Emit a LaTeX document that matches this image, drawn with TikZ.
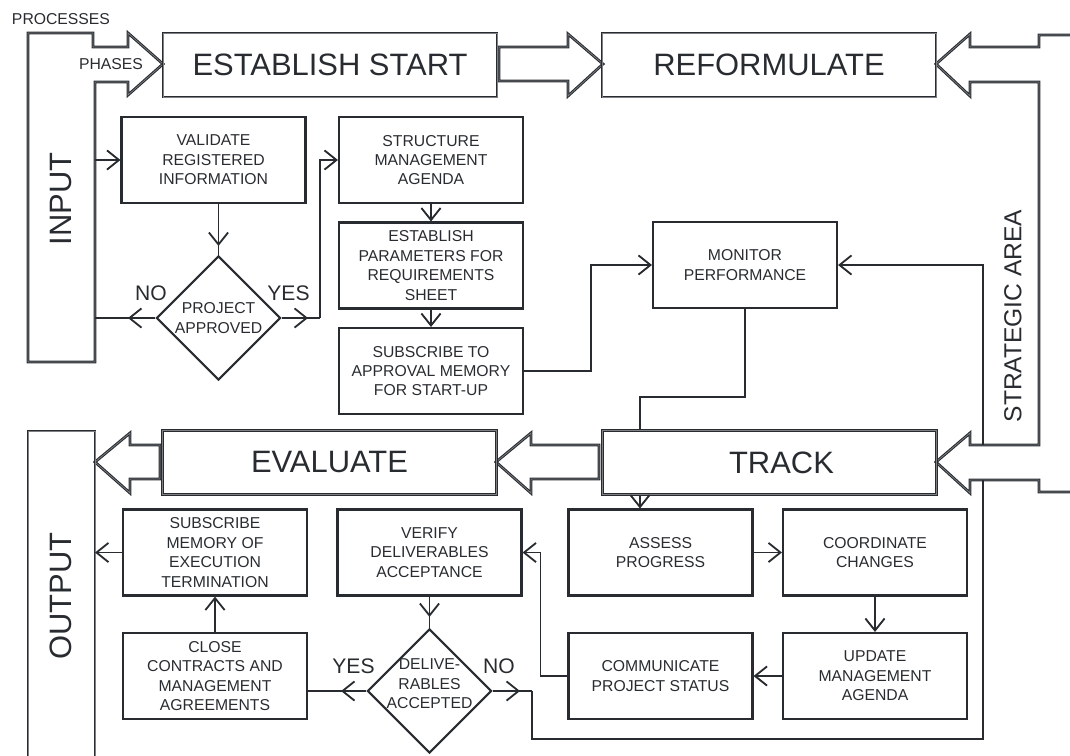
\documentclass[tikz,border=0pt]{standalone}
\usepackage{fontspec}
\setmainfont{Liberation Sans}
\usetikzlibrary{shapes.geometric,arrows.meta}
\definecolor{ink}{RGB}{40,44,48}
\newcommand{\boxfont}{\fontsize{11.2pt}{13.8pt}\selectfont}
\newcommand{\phasefont}{\fontsize{22pt}{26pt}\selectfont}
\newcommand{\answerfont}{\fontsize{15pt}{18pt}\selectfont}
\newcommand{\areafont}{\fontsize{17.5pt}{21pt}\selectfont}
\tikzset{
  >={Straight Barb[length=3mm,width=4.8mm,line width=1.3pt]},
  task/.style={draw=ink, line width=1.5pt, minimum width=46mm, minimum height=21.5mm,
    inner sep=0pt, align=center, text=ink, font=\boxfont},
  decision/.style={diamond, draw=ink, line width=1.5pt, minimum width=31mm,
    minimum height=31mm, inner sep=0pt},
  dtext/.style={align=center, text=ink, font=\boxfont, inner sep=0pt},
  phase/.style={draw=ink, line width=0.75pt, double=ink!60, double distance=0.5pt,
    minimum width=83.5mm, minimum height=16mm, inner sep=0pt, text=ink, font=\phasefont},
  frame/.style={draw=ink, line width=0.75pt, double=ink!60, double distance=0.5pt},
  conn/.style={draw=ink, line width=1.3pt},
  midtip/.style={postaction={draw=ink, ->, shorten >=#1}},
  tag/.style={text=ink, inner sep=0pt},
}

\begin{document}
\begin{tikzpicture}[x=0.25mm, y=-0.25mm]
\useasboundingbox (0,0) rectangle (1070,755);

\draw[frame] (28,33) -- (93,33) -- (93,47) -- (128,47) -- (128,33) -- (163,64)
    -- (128,95) -- (128,82) -- (95,82) -- (95,362) -- (28,362) -- cycle;
\draw[frame] (1070,35) -- (1039,35) -- (1039,47) -- (970,47) -- (970,34) -- (936,64)
    -- (970,96) -- (970,82) -- (1039,82) -- (1039,445) -- (970,445) -- (970,433)
    -- (936,462) -- (970,493) -- (970,480) -- (1039,480) -- (1039,492) -- (1070,492);
\draw[frame] (499,47) -- (568,47) -- (568,34) -- (603,64) -- (568,96) -- (568,81)
    -- (499,81) -- cycle;
\draw[frame] (599,445) -- (531,445) -- (531,433) -- (496,462) -- (531,493) -- (531,479)
    -- (599,479) -- cycle;
\draw[frame] (160,445) -- (130,445) -- (130,433) -- (95,462) -- (130,493) -- (130,479)
    -- (160,479) -- cycle;
\draw[frame] (28,760) -- (28,431) -- (95,431) -- (95,760);

\node[tag, font=\boxfont] (proc) at (61,19.5) {PROCESSES};
\node[tag, font=\boxfont] (phs) at (111,64.5) {PHASES};
\node[tag, font=\phasefont, rotate=90] (inp) at (61,199) {INPUT};
\node[tag, font=\phasefont, rotate=90] (outp) at (61,596) {OUTPUT};
\node[tag, font=\areafont, rotate=90] (strat) at (1013,316) {STRATEGIC AREA};

\node[phase] (start) at (330,65) {ESTABLISH START};
\node[phase] (reform) at (769,65) {REFORMULATE};
\node[phase] (eval) at (329.5,462.5) {EVALUATE};
\node[phase] (track) at (769.5,462.5) {};
\node[tag, font=\phasefont] (tracklbl) at (781.5,462.5) {TRACK};

\node[task] (val) at (213.5,160) {VALIDATE\\REGISTERED\\INFORMATION};
\node[task] (struc) at (431,160) {STRUCTURE\\MANAGEMENT\\AGENDA};
\node[task] (param) at (431,265.5) {ESTABLISH\\PARAMETERS FOR\\REQUIREMENTS\\SHEET};
\node[task] (subapp) at (431,371) {SUBSCRIBE TO\\APPROVAL MEMORY\\FOR START-UP};
\node[task] (mon) at (745,265) {MONITOR\\PERFORMANCE};
\node[decision, label={[dtext]center:PROJECT\\APPROVED}] (approved) at (218.5,318) {};

\node[task] (subend) at (215,552.5) {SUBSCRIBE\\MEMORY OF\\EXECUTION\\TERMINATION};
\node[task] (closec) at (215,676) {CLOSE\\CONTRACTS AND\\MANAGEMENT\\AGREEMENTS};
\node[task] (verify) at (429.5,552.5) {VERIFY\\DELIVERABLES\\ACCEPTANCE};
\node[decision, label={[dtext,yshift=1.75mm]center:DELIVE-\\RABLES\\ACCEPTED}] (accepted) at (429.5,691) {};
\node[task] (assess) at (660.5,552.5) {ASSESS\\PROGRESS};
\node[task] (coordch) at (875,552.5) {COORDINATE\\CHANGES};
\node[task] (update) at (875,676) {UPDATE\\MANAGEMENT\\AGENDA};
\node[task] (commun) at (660.5,676) {COMMUNICATE\\PROJECT STATUS};

\node[tag, font=\answerfont] (no1) at (151,293) {NO};
\node[tag, font=\answerfont] (yes1) at (288.5,293) {YES};
\node[tag, font=\answerfont] (yes2) at (353.5,666) {YES};
\node[tag, font=\answerfont] (no2) at (499,666) {NO};

\coordinate (infeed) at (95,160);
\coordinate (noback) at (95,318);
\coordinate (yesbend) at (320,318);
\coordinate (stratup) at (983,445);
\coordinate (stratdown) at (983,480);
\coordinate (loopend) at (983,739);
\coordinate (nobend) at (532,691);
\coordinate (outfeed) at (95,552.5);
\coordinate (tap) at (640,0);

\draw[conn,->] (infeed) -- (val);
\draw[conn, midtip=2.25mm] (approved.north |- val.south) -- (approved.north);
\draw[conn, line width=0.9pt, midtip=8.25mm] (approved.west) -- (noback);
\draw[conn, midtip=3mm] (approved.east) -- (yesbend);
\draw[conn,->] (yesbend) |- (struc.west);
\draw[conn,->] (struc) -- (param);
\draw[conn,->] (param) -- (subapp);
\draw[conn,->] (subapp.east) -- ++(67,0) |- (mon.west);
\draw[conn,->] (stratup) |- (mon.east);
\draw[conn] (mon.south) -- ++(0,88) -| (tap |- track.north);
\draw[conn,->] (tap |- track.south) -- (tap |- assess.north);
\draw[conn,->] (assess) -- (coordch);
\draw[conn,->] (coordch) -- (update);
\draw[conn,->] (update) -- (commun);
\draw[conn,->] (commun.west) -- ++(-27,0) |- (verify.east);
\draw[conn, midtip=2.75mm] (verify) -- (accepted);
\draw[conn, midtip=8.25mm] (accepted.west) -- (closec.east |- accepted.west);
\draw[conn, midtip=3mm] (accepted.east) -- (nobend);
\draw[conn] (nobend) |- (loopend) -- (stratdown);
\draw[conn,->] (closec) -- (subend);
\draw[conn,->] (subend) -- (outfeed);
\end{tikzpicture}
\end{document}
